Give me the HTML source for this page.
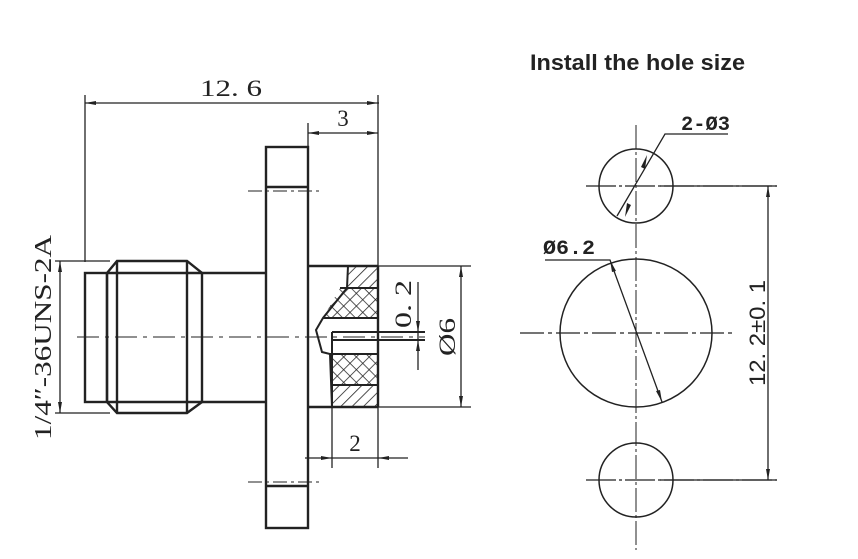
<!DOCTYPE html>
<html><head><meta charset="utf-8"><style>
html,body{margin:0;padding:0;background:#fff;}
svg{display:block;}
text{font-family:"Liberation Serif",serif;fill:#222;}
</style></head><body>
<svg width="858" height="559" viewBox="0 0 858 559" xmlns="http://www.w3.org/2000/svg">
<defs>
<pattern id="h1" width="8" height="8" patternUnits="userSpaceOnUse" patternTransform="rotate(45)"><line x1="0" y1="0" x2="0" y2="8" stroke="#222" stroke-width="1.6"/></pattern>
<pattern id="hx" width="9" height="9" patternUnits="userSpaceOnUse" patternTransform="rotate(45)"><line x1="0" y1="0" x2="0" y2="9" stroke="#222" stroke-width="1.5"/><line x1="0" y1="0" x2="9" y2="0" stroke="#222" stroke-width="1.5"/></pattern>
</defs>
<g stroke="#222" fill="none">
<line x1="85" y1="103" x2="379" y2="103" stroke-width="1.3"/>
<line x1="85" y1="95" x2="85" y2="262" stroke-width="1.3"/>
<line x1="378" y1="95" x2="378" y2="266" stroke-width="1.3"/>
<line x1="308" y1="123" x2="308" y2="147" stroke-width="1.3"/>
<line x1="308" y1="133" x2="378" y2="133" stroke-width="1.3"/>
<line x1="60" y1="261" x2="60" y2="413" stroke-width="1.3"/>
<line x1="55" y1="261" x2="110" y2="261" stroke-width="1.3"/>
<line x1="55" y1="413" x2="110" y2="413" stroke-width="1.3"/>
<g stroke-width="2.4">
<rect x="85" y="273" width="22" height="129"/>
<polygon points="107,273 117,261 187,261 202,273 202,402 187,413 117,413 107,402"/>
<line x1="117" y1="261" x2="117" y2="413"/>
<line x1="187" y1="261" x2="187" y2="413"/>
<line x1="107" y1="273" x2="202" y2="273"/>
<line x1="107" y1="402" x2="202" y2="402"/>
<line x1="202" y1="273" x2="266" y2="273"/>
<line x1="202" y1="402" x2="266" y2="402"/>
<rect x="266" y="147" width="42" height="381"/>
<line x1="266" y1="187" x2="308" y2="187"/>
<line x1="266" y1="486" x2="308" y2="486"/>
<line x1="308" y1="266" x2="378" y2="266"/>
<line x1="308" y1="407" x2="378" y2="407"/>
<line x1="378" y1="266" x2="378" y2="407"/>
</g>
<line x1="248" y1="191" x2="320" y2="191" stroke-width="1" stroke-dasharray="14,4,3,4"/>
<line x1="248" y1="482" x2="320" y2="482" stroke-width="1" stroke-dasharray="14,4,3,4"/>
<polygon points="348,266 377,266 377,288 348,288" fill="url(#h1)" stroke="none"/>
<polygon points="340,288 377,288 377,318 323,318" fill="url(#hx)" stroke="none"/>
<polygon points="331,354 377,354 377,385 333,385" fill="url(#hx)" stroke="none"/>
<polygon points="333,385 377,385 377,407 333,407" fill="url(#h1)" stroke="none"/>
<g stroke-width="2">
<polyline points="348,266 347,288 323,318 316,330 322,352 330,354 332,407"/>
<line x1="340" y1="288" x2="377" y2="288"/>
<line x1="323" y1="318" x2="377" y2="318"/>
<line x1="330" y1="354" x2="377" y2="354"/>
<line x1="333" y1="385" x2="377" y2="385"/>
<line x1="332" y1="332" x2="425" y2="332"/>
<line x1="332" y1="340" x2="425" y2="340"/>
<line x1="332" y1="332" x2="332" y2="407"/>
</g>
<line x1="77" y1="337" x2="425" y2="337" stroke-width="1" stroke-dasharray="22,6,4,6"/>
<line x1="418" y1="282" x2="418" y2="370" stroke-width="1.3"/>
<line x1="378" y1="266" x2="471" y2="266" stroke-width="1.3"/>
<line x1="378" y1="407" x2="471" y2="407" stroke-width="1.3"/>
<line x1="461" y1="266" x2="461" y2="407" stroke-width="1.3"/>
<line x1="332" y1="407" x2="332" y2="468" stroke-width="1.3"/>
<line x1="378" y1="407" x2="378" y2="468" stroke-width="1.3"/>
<line x1="305" y1="458" x2="408" y2="458" stroke-width="1.3"/>
</g>
<g fill="#222">
<polygon points="85,103 96,101 96,105"/><polygon points="378,103 367,101 367,105"/>
<polygon points="308,133 319,131 319,135"/><polygon points="378,133 367,131 367,135"/>
<polygon points="60,261 58,272 62,272"/><polygon points="60,413 58,402 62,402"/>
<polygon points="461,266 459,277 463,277"/><polygon points="461,407 459,396 463,396"/>
<polygon points="418,332 416,321 420,321"/><polygon points="418,340 416,351 420,351"/>
<polygon points="332,458 321,456 321,460"/><polygon points="378,458 389,456 389,460"/>
</g>
<text x="200" y="96" font-size="23" textLength="62" lengthAdjust="spacingAndGlyphs">12. 6</text>
<text x="343" y="126" font-size="23" text-anchor="middle">3</text>
<text x="355" y="451" font-size="23" text-anchor="middle">2</text>
<text transform="translate(51,440) rotate(-90)" font-size="24" textLength="205" lengthAdjust="spacingAndGlyphs">1/4″-36UNS-2A</text>
<text transform="translate(411,328) rotate(-90)" font-size="23" textLength="48" lengthAdjust="spacingAndGlyphs">0. 2</text>
<text transform="translate(455,356) rotate(-90)" font-size="23" textLength="38" lengthAdjust="spacingAndGlyphs">Ø6</text>

<text x="530" y="70" font-size="22" font-weight="bold" textLength="215" lengthAdjust="spacingAndGlyphs" style="font-family:'Liberation Sans',sans-serif">Install the hole size</text>
<g stroke="#222" fill="none">
<line x1="636" y1="125" x2="636" y2="550" stroke-width="1" stroke-dasharray="24,3,3,3"/>
<line x1="586" y1="186" x2="777" y2="186" stroke-width="1.2" stroke-dasharray="30,3,3,3"/>
<line x1="520" y1="333" x2="732" y2="333" stroke-width="1.2" stroke-dasharray="24,4,4,4"/>
<line x1="586" y1="480" x2="777" y2="480" stroke-width="1.2" stroke-dasharray="30,3,3,3"/>
<line x1="660" y1="186" x2="777" y2="186" stroke-width="1.2"/>
<line x1="660" y1="480" x2="777" y2="480" stroke-width="1.2"/>
<circle cx="636" cy="186" r="37" stroke-width="1.5"/>
<ellipse cx="636" cy="333" rx="76" ry="74" stroke-width="1.5"/>
<circle cx="636" cy="480" r="37" stroke-width="1.5"/>
<line x1="768" y1="186" x2="768" y2="480" stroke-width="1.3"/>
<polyline points="728,134 665,134 617,216" stroke-width="1.3"/>
<polyline points="545,260 610,260 662,402" stroke-width="1.3"/>
</g>
<g fill="#222">
<polygon points="768,186 766,197 770,197"/><polygon points="768,480 766,469 770,469"/>
<polygon points="647,155 641,167 645,169"/><polygon points="625,217 631,205 627,203"/>
<polygon points="610,260 612,272 616,271"/><polygon points="662,402 660,390 656,391"/>
</g>
<text x="681" y="130" font-size="20" font-weight="bold" textLength="49" lengthAdjust="spacingAndGlyphs" style="font-family:'Liberation Mono',monospace">2-Ø3</text>
<text x="543" y="254" font-size="20" font-weight="bold" textLength="52" lengthAdjust="spacingAndGlyphs" style="font-family:'Liberation Mono',monospace">Ø6.2</text>
<text transform="translate(765,386) rotate(-90)" font-size="22" textLength="106" lengthAdjust="spacingAndGlyphs" style="font-family:'Liberation Sans',sans-serif">12. 2±0. 1</text>
</svg>
</body></html>
